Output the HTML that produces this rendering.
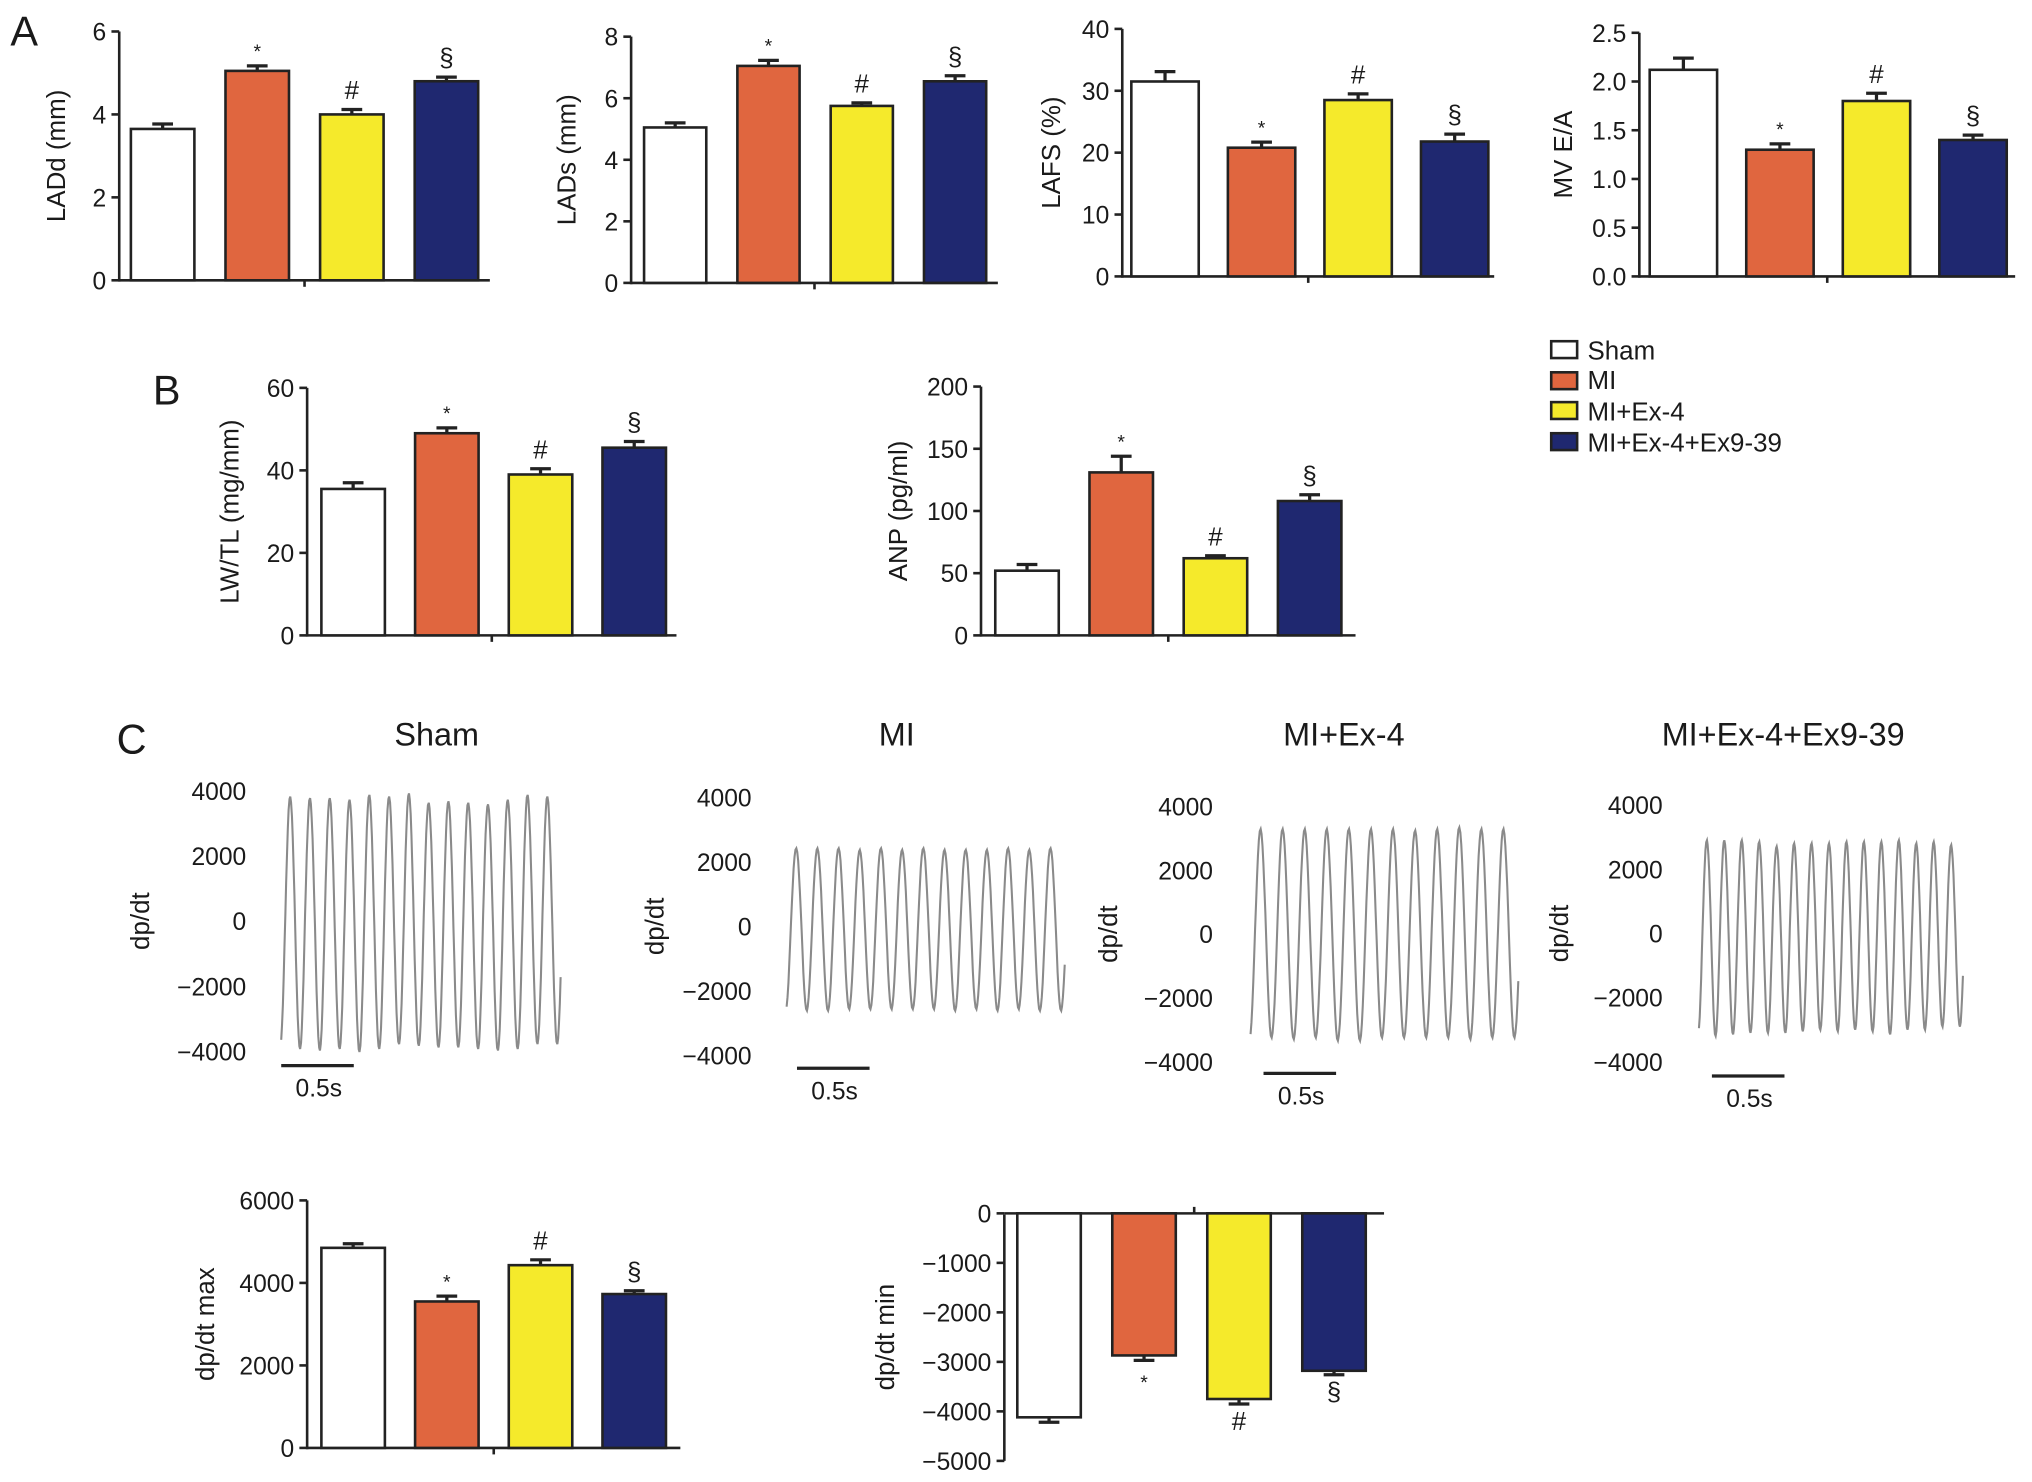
<!DOCTYPE html>
<html><head><meta charset="utf-8"><style>
html,body{margin:0;padding:0;background:#fff}
svg{display:block}
text{font-family:"Liberation Sans",Arial,sans-serif;fill:#1a1a1a}
</style></head><body>
<svg id="fig" width="2032" height="1482" viewBox="0 0 1568 1143" xmlns="http://www.w3.org/2000/svg">
<text x="8" y="35" font-size="32">A</text>
<text x="118" y="312" font-size="32">B</text>
<text x="90" y="581" font-size="32">C</text>
<g>
<rect x="1197" y="263" width="20" height="13" fill="#fff" stroke="#222" stroke-width="2"/>
<text x="1225" y="277" font-size="20">Sham</text>
<rect x="1197" y="287" width="20" height="13" fill="#e0663f" stroke="#222" stroke-width="2"/>
<text x="1225" y="300" font-size="20">MI</text>
<rect x="1197" y="310" width="20" height="13" fill="#f5ea2b" stroke="#222" stroke-width="2"/>
<text x="1225" y="324" font-size="20">MI+Ex-4</text>
<rect x="1197" y="334" width="20" height="13" fill="#1f2870" stroke="#222" stroke-width="2"/>
<text x="1225" y="348" font-size="20">MI+Ex-4+Ex9-39</text>
</g>
</svg>
<script>
const groups = ["Sham","MI","MI+Ex-4","MI+Ex-4+Ex9-39"];
const ladd = [3.65,5.05,4.0,4.8];           const laddErr=[0.12,0.12,0.12,0.1];
const lads = [5.05,7.05,5.75,6.55];         const ladsErr=[0.15,0.18,0.1,0.18];
const lafs = [31.5,20.8,28.5,21.8];         const lafsErr=[1.6,0.9,1.0,1.2];
const mvea = [2.12,1.3,1.8,1.4];            const mveaErr=[0.12,0.06,0.08,0.05];
const lwtl = [35.5,49,39,45.5];             const lwtlErr=[1.5,1.3,1.4,1.5];
const anp = [52,131,62,108];                const anpErr=[5,13,2,5];
const dpmax = [4850,3550,4430,3730];        const dpmaxErr=[100,130,130,80];
const dpmin = [-4120,-2870,-3750,-3180];    const dpminErr=[100,100,100,80];
const sig = ["","*","#","§"];
const colors=["#ffffff","#e0663f","#f5ea2b","#1f2870"];
const svg=document.getElementById('fig');
const NS="http://www.w3.org/2000/svg";
function mk(tag,attrs,parent){const e=document.createElementNS(NS,tag);for(const k in attrs)e.setAttribute(k,attrs[k]);(parent||svg).appendChild(e);return e;}

function barChart(o){
  const g=mk('g',{});
  
  
  const y=v=>o.y0+(v-o.min)/(o.max-o.min)*(o.y1-o.y0);
  mk('line',{x1:o.ax,x2:o.ax,y1:o.y1,y2:o.y0+1,stroke:'#222','stroke-width':2},g);
  const base=y(o.baseVal);
  mk('line',{x1:o.ax,x2:o.xend,y1:base,y2:base,stroke:'#222','stroke-width':2},g);
  const mid=(o.ax+o.xend)/2;
  mk('line',{x1:mid,x2:mid,y1:base,y2:base+(o.neg?-5:5),stroke:'#222','stroke-width':2},g);
  o.ticks.forEach((t,i)=>{const ty=y(t);
    mk('line',{x1:o.ax-6,x2:o.ax,y1:ty,y2:ty,stroke:'#222','stroke-width':2},g);
    const tx=mk('text',{x:o.ax-10,y:ty+7,'font-size':19,'text-anchor':'end'},g);tx.textContent=o.tickLabels[i];
    
    
  });
  const lab=mk('text',{x:0,y:0,'font-size':20,'text-anchor':'middle',transform:`translate(${o.labX},${(o.y0+o.y1)/2}) rotate(-90)`},g);
  lab.textContent=o.label;
  
  
  o.vals.forEach((v,i)=>{
    const x=o.bx+i*o.step, w=o.bw, yv=y(v);
    const top=Math.min(yv,base),h=Math.abs(yv-base);
    const e=y(v+(o.neg?-o.err[i]:o.err[i]));
    mk('line',{x1:x+w/2,x2:x+w/2,y1:yv,y2:e,stroke:'#222','stroke-width':2.5},g);
    mk('line',{x1:x+w/2-8,x2:x+w/2+8,y1:e,y2:e,stroke:'#222','stroke-width':2.5},g);
    const r=mk('rect',{x:x,y:top,width:w,height:h,fill:colors[i],stroke:'#222','stroke-width':2},g);
    
    
    if(sig[i]){
      const sy=o.neg? e+20 : e-8;
      const s=mk('text',{x:x+w/2,y:sy+(sig[i]=='*'?2:0),'font-size':sig[i]=='*'?15:20,'text-anchor':'middle'},g);
      s.textContent=sig[i];
      
      
    }
  });
}
barChart({name:'ladd-chart',ax:92,xend:378,y0:216,y1:24,min:0,max:6,baseVal:0,ticks:[0,2,4,6],tickLabels:['0','2','4','6'],label:'LADd (mm)',labX:50,vals:ladd,err:laddErr,bx:101,step:73,bw:49});
barChart({name:'lads-chart',ax:487,xend:770,y0:218,y1:28,min:0,max:8,baseVal:0,ticks:[0,2,4,6,8],tickLabels:['0','2','4','6','8'],label:'LADs (mm)',labX:444,vals:lads,err:ladsErr,bx:497,step:72,bw:48});
barChart({name:'lafs-chart',ax:866,xend:1153,y0:213,y1:22,min:0,max:40,baseVal:0,ticks:[0,10,20,30,40],tickLabels:['0','10','20','30','40'],label:'LAFS (%)',labX:818,vals:lafs,err:lafsErr,bx:873,step:74.5,bw:52});
barChart({name:'mvea-chart',ax:1265,xend:1555,y0:213,y1:25,min:0,max:2.5,baseVal:0,ticks:[0,0.5,1,1.5,2,2.5],tickLabels:['0.0','0.5','1.0','1.5','2.0','2.5'],label:'MV E/A',labX:1213,vals:mvea,err:mveaErr,bx:1273,step:74.5,bw:52});
barChart({name:'lwtl-chart',ax:237,xend:522,y0:490,y1:299,min:0,max:60,baseVal:0,ticks:[0,20,40,60],tickLabels:['0','20','40','60'],label:'LW/TL (mg/mm)',labX:184,vals:lwtl,err:lwtlErr,bx:248,step:72.3,bw:49});
barChart({name:'anp-chart',ax:757,xend:1046,y0:490,y1:298,min:0,max:200,baseVal:0,ticks:[0,50,100,150,200],tickLabels:['0','50','100','150','200'],label:'ANP (pg/ml)',labX:700,vals:anp,err:anpErr,bx:768,step:72.7,bw:49});
barChart({name:'dpdt-max-chart',ax:237,xend:525,y0:1117,y1:926,min:0,max:6000,baseVal:0,ticks:[0,2000,4000,6000],tickLabels:['0','2000','4000','6000'],label:'dp/dt max',labX:165,vals:dpmax,err:dpmaxErr,bx:248,step:72.3,bw:49});
barChart({name:'dpdt-min-chart',ax:775,xend:1068,y0:936,y1:1127,min:0,max:-5000,baseVal:0,neg:true,ticks:[0,-1000,-2000,-3000,-4000,-5000],tickLabels:['0','−1000','−2000','−3000','−4000','−5000'],label:'dp/dt min',labX:690,vals:dpmin,err:dpminErr,bx:785,step:73.3,bw:49});

// waveform panels
const waveTitles=["Sham","MI","MI+Ex-4","MI+Ex-4+Ex9-39"];
const wavePeaks=[[3950,3900,3900,3850,4000,3950,4050,3750,3800,3750,3700,3850,4000,3950],
 [2500,2500,2500,2450,2500,2450,2500,2450,2450,2450,2500,2450,2500],
 [3400,3400,3400,3400,3400,3400,3400,3350,3400,3450,3400,3400],
 [3000,3000,3000,2950,2800,2900,2900,2900,2950,2950,2950,3000,2900,2950,2850]];
const waveTroughs=[[-3950,-4050,-4100,-4050,-4150,-4050,-3900,-3950,-4000,-4000,-4050,-4100,-4050,-3900],
 [-2700,-2700,-2700,-2650,-2650,-2650,-2650,-2650,-2700,-2650,-2700,-2650,-2700],
 [-3400,-3350,-3400,-3350,-3450,-3450,-3350,-3350,-3350,-3350,-3400,-3350],
 [-3200,-3300,-3250,-3200,-3200,-3200,-3150,-3100,-3150,-3100,-3150,-3250,-3100,-3100,-3000]];
const waveTicks=[4000,2000,0,-2000,-4000];
const waveTickLabels=['4000','2000','0','−2000','−4000'];
const wl=[{tx:337,ax:200,y4:610,yn:811,x0:217,x1:433,sb:217,sby:822,lab:115},
 {tx:692,ax:590,y4:615,yn:814,x0:607,x1:822,sb:615,sby:824,lab:512},
 {tx:1037,ax:946,y4:622,yn:819,x0:965,x1:1172,sb:975,sby:828,lab:862},
 {tx:1376,ax:1293,y4:621,yn:819,x0:1311,x1:1515,sb:1321,sby:830,lab:1210}];
wl.forEach((L,p)=>{
  const g=mk('g',{});
  
  
  const t=mk('text',{x:L.tx,y:575,'font-size':25,'text-anchor':'middle'},g);t.textContent=waveTitles[p];
  
  
  const y=v=>L.y4+(4000-v)/8000*(L.yn-L.y4);
  waveTicks.forEach((v,i)=>{const tt=mk('text',{x:L.ax-10,y:y(v)+7,'font-size':19,'text-anchor':'end'},g);tt.textContent=waveTickLabels[i];
    
    });
  const yl=mk('text',{x:0,y:0,'font-size':20,'text-anchor':'middle',transform:`translate(${L.lab},${(L.y4+L.yn)/2}) rotate(-90)`},g);yl.textContent='dp/dt';
  
  
  const pk=wavePeaks[p],tr=waveTroughs[p],n=pk.length;
  const per=(L.x1-L.x0)/(n+0.15);
  let d='';
  for(let i=0;i<=n*24+6;i++){
    const ph=i/24, c=Math.min(n-1,Math.floor(ph));
    const cos=Math.cos(2*Math.PI*(ph-0.3-0.15));
    const v= cos>=0 ? pk[c]*cos : -tr[Math.min(n-1,Math.floor(ph+0.5))]*cos;
    const x=L.x0+ph*per; if(x>L.x1)break;
    d+=(i?'L':'M')+x.toFixed(1)+' '+y(v*0.97).toFixed(1);
  }
  const path=mk('path',{d:d,fill:'none',stroke:'#8a8a8a','stroke-width':1.6},g);
  
  
  mk('line',{x1:L.sb,x2:L.sb+56,y1:L.sby,y2:L.sby,stroke:'#222','stroke-width':2.5},g);
  const sl=mk('text',{x:L.sb+29,y:L.sby+24,'font-size':19,'text-anchor':'middle'},g);sl.textContent='0.5s';
  
  
});
</script>
</body></html>
